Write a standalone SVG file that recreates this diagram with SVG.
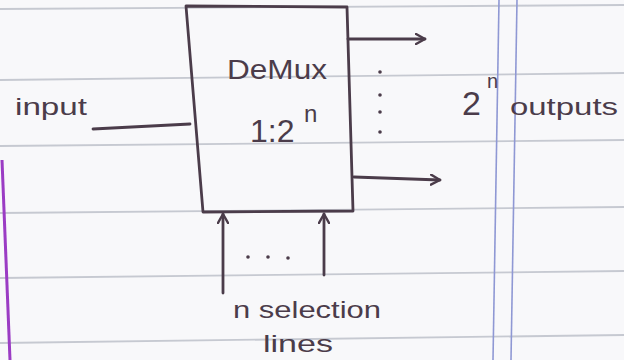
<svg xmlns="http://www.w3.org/2000/svg" width="624" height="360" viewBox="0 0 624 360">
<defs>
<style>
.ink{stroke:#4b3c4a;stroke-width:2.8;fill:none;stroke-linecap:round;stroke-linejoin:round}
.rule{stroke:#c6c9d1;stroke-width:1.8}
.margin{stroke:#8f98d4;stroke-width:1.6}
.txt{font-family:"Liberation Sans",Arial,sans-serif;fill:#4b3c4a}
.dot{fill:#4b3c4a}
</style>
<marker id="arr" viewBox="0 0 12 12" refX="10" refY="6" markerWidth="12" markerHeight="12" markerUnits="userSpaceOnUse" orient="auto">
<path d="M1,1 L10,6 L1,11" fill="none" stroke="#4b3c4a" stroke-width="2.4" stroke-linecap="round" stroke-linejoin="round"/>
</marker>
</defs>
<rect width="624" height="360" fill="#f8f8fa"/>
<g id="paper">
<line class="rule" x1="0" y1="9" x2="624" y2="5"/>
<line class="rule" x1="0" y1="80" x2="624" y2="73"/>
<line class="rule" x1="0" y1="146" x2="624" y2="140"/>
<line class="rule" x1="0" y1="213" x2="624" y2="207"/>
<line class="rule" x1="0" y1="278" x2="624" y2="271"/>
<line class="rule" x1="0" y1="343" x2="624" y2="335"/>
<line class="margin" x1="499" y1="0" x2="493" y2="360"/>
<line class="margin" x1="517" y1="0" x2="511" y2="360"/>
<line x1="2" y1="160" x2="10" y2="360" stroke="#9b3cc4" stroke-width="3"/>
</g>
<g id="demux">
<path class="ink" d="M186,6 L347,7 L353,211 L203,212 Z"/>
<text class="txt" x="227" y="79" font-size="28" textLength="100" lengthAdjust="spacingAndGlyphs">DeMux</text>
<text class="txt" x="250" y="142" font-size="32">1:2</text>
<text class="txt" x="304" y="122" font-size="24">n</text>
</g>
<g id="input">
<text class="txt" x="15" y="115" font-size="24" textLength="72" lengthAdjust="spacingAndGlyphs">input</text>
</g>
<g id="outputs">
<text class="txt" x="462" y="115" font-size="34">2</text>
<text class="txt" x="487" y="88" font-size="20">n</text>
<text class="txt" x="510" y="115" font-size="24" textLength="108" lengthAdjust="spacingAndGlyphs">outputs</text>
<circle class="dot" cx="380" cy="72" r="1.8"/>
<circle class="dot" cx="380" cy="95" r="1.8"/>
<circle class="dot" cx="380" cy="112" r="1.8"/>
<circle class="dot" cx="380" cy="132" r="1.8"/>
</g>
<g id="selection">
<circle class="dot" cx="248" cy="257" r="1.8"/>
<circle class="dot" cx="268" cy="257" r="1.8"/>
<circle class="dot" cx="288" cy="258" r="1.8"/>
<text class="txt" x="233" y="318" font-size="24" textLength="148" lengthAdjust="spacingAndGlyphs">n selection</text>
<text class="txt" x="263" y="352" font-size="24" textLength="70" lengthAdjust="spacingAndGlyphs">lines</text>
</g>
<g id="connectors">
<line class="ink" x1="93" y1="129" x2="190" y2="124"/>
<line class="ink" x1="348" y1="39" x2="425" y2="39" marker-end="url(#arr)"/>
<line class="ink" x1="354" y1="177" x2="440" y2="180" marker-end="url(#arr)"/>
<line class="ink" x1="223" y1="293" x2="223" y2="214" marker-end="url(#arr)"/>
<line class="ink" x1="324" y1="275" x2="324" y2="214" marker-end="url(#arr)"/>
</g>
</svg>
